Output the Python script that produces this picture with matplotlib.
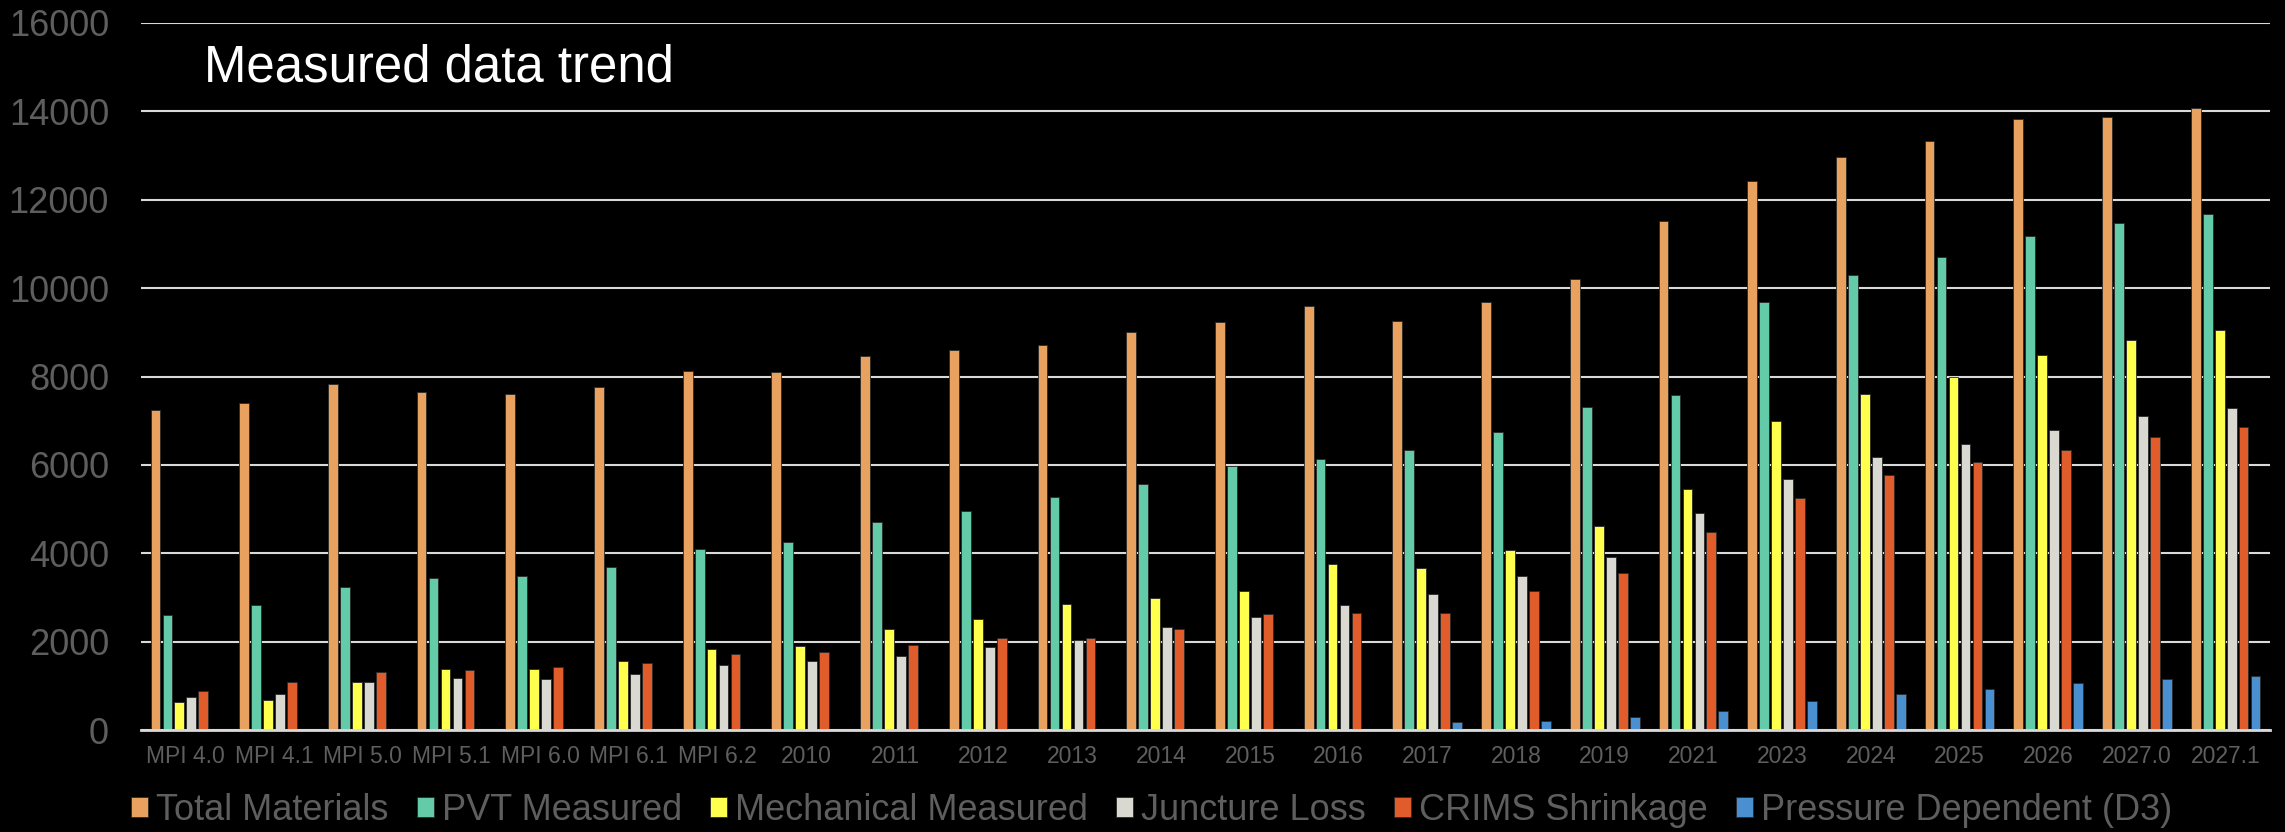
import numpy as np
import matplotlib.pyplot as plt
from matplotlib.patches import Patch

plt.rcParams['font.family'] = ['Liberation Sans', 'DejaVu Sans']

categories = ["MPI 4.0", "MPI 4.1", "MPI 5.0", "MPI 5.1", "MPI 6.0", "MPI 6.1", "MPI 6.2",
              "2010", "2011", "2012", "2013", "2014", "2015", "2016", "2017", "2018",
              "2019", "2021", "2023", "2024", "2025", "2026", "2027.0", "2027.1"]

total_materials = [7245, 7396, 7834, 7639, 7609, 7752, 8135, 8105, 8470, 8608, 8716, 9001,
                   9240, 9601, 9247, 9686, 10212, 11530, 12435, 12966, 13330, 13822, 13881, 14068]
pvt_measured = [2604, 2830, 3245, 3434, 3487, 3683, 4091, 4260, 4697, 4951, 5282, 5559,
                5967, 6144, 6329, 6753, 7309, 7585, 9690, 10300, 10694, 11185, 11471, 11687]
mechanical_measured = [642, 679, 1087, 1389, 1389, 1555, 1826, 1902, 2287, 2518, 2841, 2980,
                       3141, 3757, 3673, 4081, 4624, 5460, 7004, 7614, 7998, 8480, 8834, 9060]
juncture_loss = [755, 815, 1087, 1170, 1147, 1275, 1472, 1563, 1679, 1871, 2040, 2333,
                 2564, 2833, 3088, 3480, 3925, 4909, 5676, 6178, 6473, 6788, 7113, 7290]
crims_shrinkage = [890, 1087, 1306, 1358, 1419, 1525, 1721, 1763, 1925, 2087, 2087, 2287,
                   2618, 2641, 2641, 3141, 3542, 4486, 5253, 5765, 6060, 6335, 6640, 6847]
pressure_dependent = [0, 0, 0, 0, 0, 0, 0, 0, 0, 0, 0, 0,
                      0, 0, 177, 208, 295, 433, 659, 826, 935, 1053, 1151, 1215]

series_names = ["Total Materials", "PVT Measured", "Mechanical Measured",
                "Juncture Loss", "CRIMS Shrinkage", "Pressure Dependent (D3)"]
series_values = [total_materials, pvt_measured, mechanical_measured,
                 juncture_loss, crims_shrinkage, pressure_dependent]
colors = ["#E8A15E", "#63CBA8", "#FFFF4D", "#D9D9D2", "#E05C2B", "#4A90D0"]

TEXT_GRAY = "#5E5E5E"
GRID_GRAY = "#D9D9D9"

fig = plt.figure(figsize=(22.85, 8.32), dpi=100, facecolor="black")
# axes box placed to match the reference pixel layout
ax = fig.add_axes([141 / 2285, 1 - 730 / 832, (2270 - 141) / 2285, (730 - 23) / 832])
ax.set_facecolor("black")

x = np.arange(len(categories))
pitch = 0.135
width = 0.11
for i, (name, vals, col) in enumerate(zip(series_names, series_values, colors)):
    ax.bar(x + (i - 2.5) * pitch, vals, width=width, color=col,
           edgecolor="#2a2a2a", linewidth=0.6, zorder=3)

ax.set_xlim(-0.5, len(categories) - 0.5)
ax.set_ylim(0, 16000)
ax.set_yticks(np.arange(0, 16001, 2000))
ax.set_xticks(x)
ax.set_xticklabels(categories)
ax.yaxis.grid(True, color=GRID_GRAY, linewidth=1.5, zorder=1)
ax.set_axisbelow(True)
for side in ["top", "right", "left"]:
    ax.spines[side].set_visible(False)
ax.spines["bottom"].set_color(GRID_GRAY)
ax.spines["bottom"].set_linewidth(2.0)
ax.spines["bottom"].set_zorder(4)
ax.tick_params(axis="y", length=0, pad=23, labelsize=26, labelcolor=TEXT_GRAY)
ax.tick_params(axis="x", length=0, pad=11, labelsize=16.5, labelcolor=TEXT_GRAY)

fig.text(204 / 2285, 1 - 82 / 832, "Measured data trend", fontsize=36.7,
         color="white", ha="left", va="baseline")

handles = [Patch(facecolor=c, edgecolor="#2a2a2a", linewidth=0.6) for c in colors]
leg = fig.legend(handles, series_names, loc="center", bbox_to_anchor=(0.504, 0.026),
                 ncol=6, frameon=False, fontsize=26, handlelength=0.47, handleheight=0.5,
                 handletextpad=0.22, columnspacing=0.78, borderpad=0, borderaxespad=0)
for t in leg.get_texts():
    t.set_color(TEXT_GRAY)

fig.savefig("out.png", dpi=100, facecolor="black")
